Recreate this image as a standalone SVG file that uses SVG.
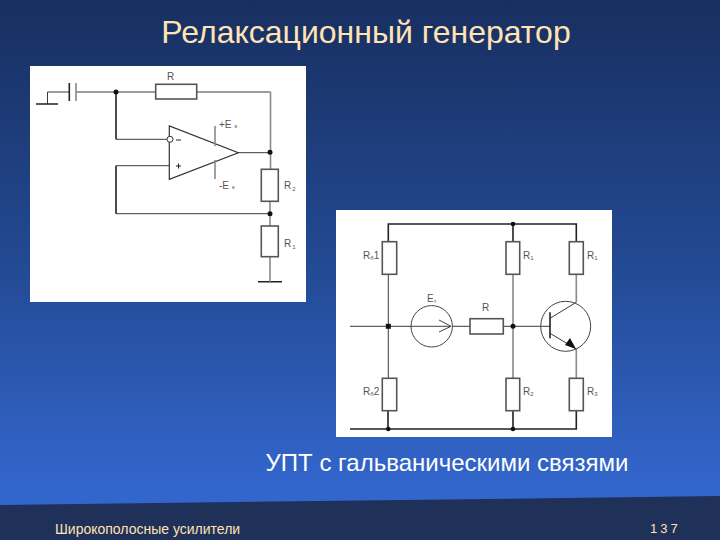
<svg xmlns="http://www.w3.org/2000/svg" width="720" height="540" viewBox="0 0 720 540">
<style>
.w{fill:none;stroke:#3a3a3a;stroke-width:1}
.b{fill:none;stroke:#222;stroke-width:1.6}
.g{fill:none;stroke:#8a8a8a;stroke-width:1.6}
.r{fill:#fff;stroke:#555;stroke-width:1.6}
.n{fill:#111}
.l{font-family:"Liberation Sans",Arial,sans-serif;font-size:10px;fill:#555}
.s{font-size:6px}
.t{font-family:"Liberation Sans",Arial,sans-serif}
</style>
<defs>
<linearGradient id="bg" x1="0" y1="0" x2="0" y2="1">
<stop offset="0" stop-color="#182f60"/>
<stop offset="0.5" stop-color="#234a94"/>
<stop offset="0.9" stop-color="#3366cc"/>
</linearGradient>
</defs>
<rect width="720" height="540" fill="url(#bg)"/>
<polygon points="0,505 720,496 720,540 0,540" fill="#1f3059"/>
<text class="t" x="366" y="43" text-anchor="middle" font-size="32" fill="#ffe3b5">Релаксационный генератор</text>
<rect id="panel1" x="30" y="66" width="276" height="236" fill="#fff"/>
<rect id="panel2" x="336" y="210" width="276" height="227" fill="#fff"/>
<g id="connectors">
<path class="w" d="M47.500 92V104M76 92H155.500M196.500 92H270.500M167 139.300H116M169 165.700H116M116 213.700H270"/>
<path class="b" d="M116 92V139.300M116 165.700V213.700M36 104H58M258 281.700H282"/>
<path class="g" d="M270.500 92V169M270 201V226M270 257V281.700"/>
<path class="w" d="M47.500 92H69M238.300 152.700H270"/>
<path class="b" d="M388.300 241.700V224H576.300V241.700M350 429H576.300V410.700M388 410.700V429M513 224V241.700M513 410.700V429"/>
<path class="w" d="M388.300 274.300V378.300M350 326.300H411M452 326.300H470M503.300 326.300H550"/>
<path class="g" d="M513 274.300V378.300M576.300 274.300V302.300M576.300 349V378.300"/>
<path class="w" d="M550 318.300L576.300 302.300M550 333.300L576.300 349"/>
<path class="b" d="M550 312.300V338.300"/>
</g>
<g id="capacitor"><path d="M69.300 83V101" stroke="#222" stroke-width="1.600" fill="none"/><path d="M76 83V101" stroke="#888" stroke-width="1.600" fill="none"/></g>
<g id="R"><rect class="r" x="155.700" y="84.300" width="41" height="14.700"/><text class="l" x="167" y="80">R</text></g>
<g id="opamp"><polygon points="169.300,126 169.300,179.300 238.300,152.700" fill="#fff" stroke="#333" stroke-width="1.200"/><circle cx="170" cy="139.300" r="3" fill="#fff" stroke="#333"/><path d="M176 140H181M176 166H181M178.500 163.500V168.500" stroke="#222" fill="none"/>
<path d="M215 126V146M215 160V179" class="g"/>
<text class="l" x="219" y="128">+E<tspan class="s" dx="3">к</tspan></text><text class="l" x="219" y="189">-E<tspan class="s" dx="3">к</tspan></text></g>
<g id="R2"><rect class="r" x="261.300" y="169.300" width="17" height="32"/><text class="l" x="284" y="189">R<tspan class="s" dx="1" dy="2">2</tspan></text></g>
<g id="R1"><rect class="r" x="261.300" y="226" width="17" height="30.700"/><text class="l" x="284" y="247">R<tspan class="s" dx="1" dy="2">1</tspan></text></g>
<g id="nodes1"><circle class="n" cx="116" cy="92" r="2.500"/><circle class="n" cx="270" cy="152.300" r="2.500"/><circle class="n" cx="270" cy="213.700" r="2.500"/></g>
<g id="Rb1"><rect class="r" x="382.300" y="241.700" width="14.400" height="32.600"/><text class="l" x="363" y="259">R<tspan class="s" dy="1">б</tspan><tspan dy="-1">1</tspan></text></g>
<g id="Rb2"><rect class="r" x="382.300" y="378.300" width="14.400" height="32.400"/><text class="l" x="363" y="395">R<tspan class="s" dy="1">б</tspan><tspan dy="-1">2</tspan></text></g>
<g id="R1m"><rect class="r" x="506" y="241.700" width="13.700" height="32.600"/><text class="l" x="523" y="259">R<tspan class="s" dy="1">1</tspan></text></g>
<g id="R2m"><rect class="r" x="506" y="378.300" width="13.700" height="32.400"/><text class="l" x="523" y="395">R<tspan class="s" dy="1">2</tspan></text></g>
<g id="Rk"><rect class="r" x="569.300" y="241.700" width="14" height="32.600"/><text class="l" x="587" y="259">R<tspan class="s" dy="1">1</tspan></text></g>
<g id="Re"><rect class="r" x="569.300" y="378.300" width="14" height="32.400"/><text class="l" x="587" y="395">R<tspan class="s" dy="1">3</tspan></text></g>
<g id="source"><circle cx="431.700" cy="326.300" r="20.700" fill="none" stroke="#444"/><path d="M411 326.300H451M439 320L451 326.300L439 332" stroke="#444" fill="none"/><text class="l" x="427" y="302">E<tspan class="s" dy="1">т</tspan></text></g>
<g id="Rm"><rect class="r" x="470" y="318.700" width="33.300" height="15.300"/><text class="l" x="482" y="311">R</text></g>
<g id="transistor"><circle cx="565.700" cy="326.300" r="25" fill="none" stroke="#444"/><polygon points="576,349 565,345 570,338" fill="#111"/></g>
<g id="nodes2"><circle class="n" cx="513" cy="224" r="2.300"/><rect class="n" x="385.800" y="323.800" width="5" height="5"/><circle class="n" cx="513" cy="326.300" r="2.500"/><circle class="n" cx="388.300" cy="429" r="2.300"/><circle class="n" cx="513" cy="429" r="2.300"/></g>
<text class="t" x="447" y="471" text-anchor="middle" font-size="24" fill="#fff">УПТ с гальваническими связями</text>
<text class="t" x="55" y="534" font-size="14" fill="#ffe3b5">Широкополосные усилители</text>
<text class="t" x="650" y="533" font-size="13" letter-spacing="3" fill="#ffe3b5">137</text>
</svg>
